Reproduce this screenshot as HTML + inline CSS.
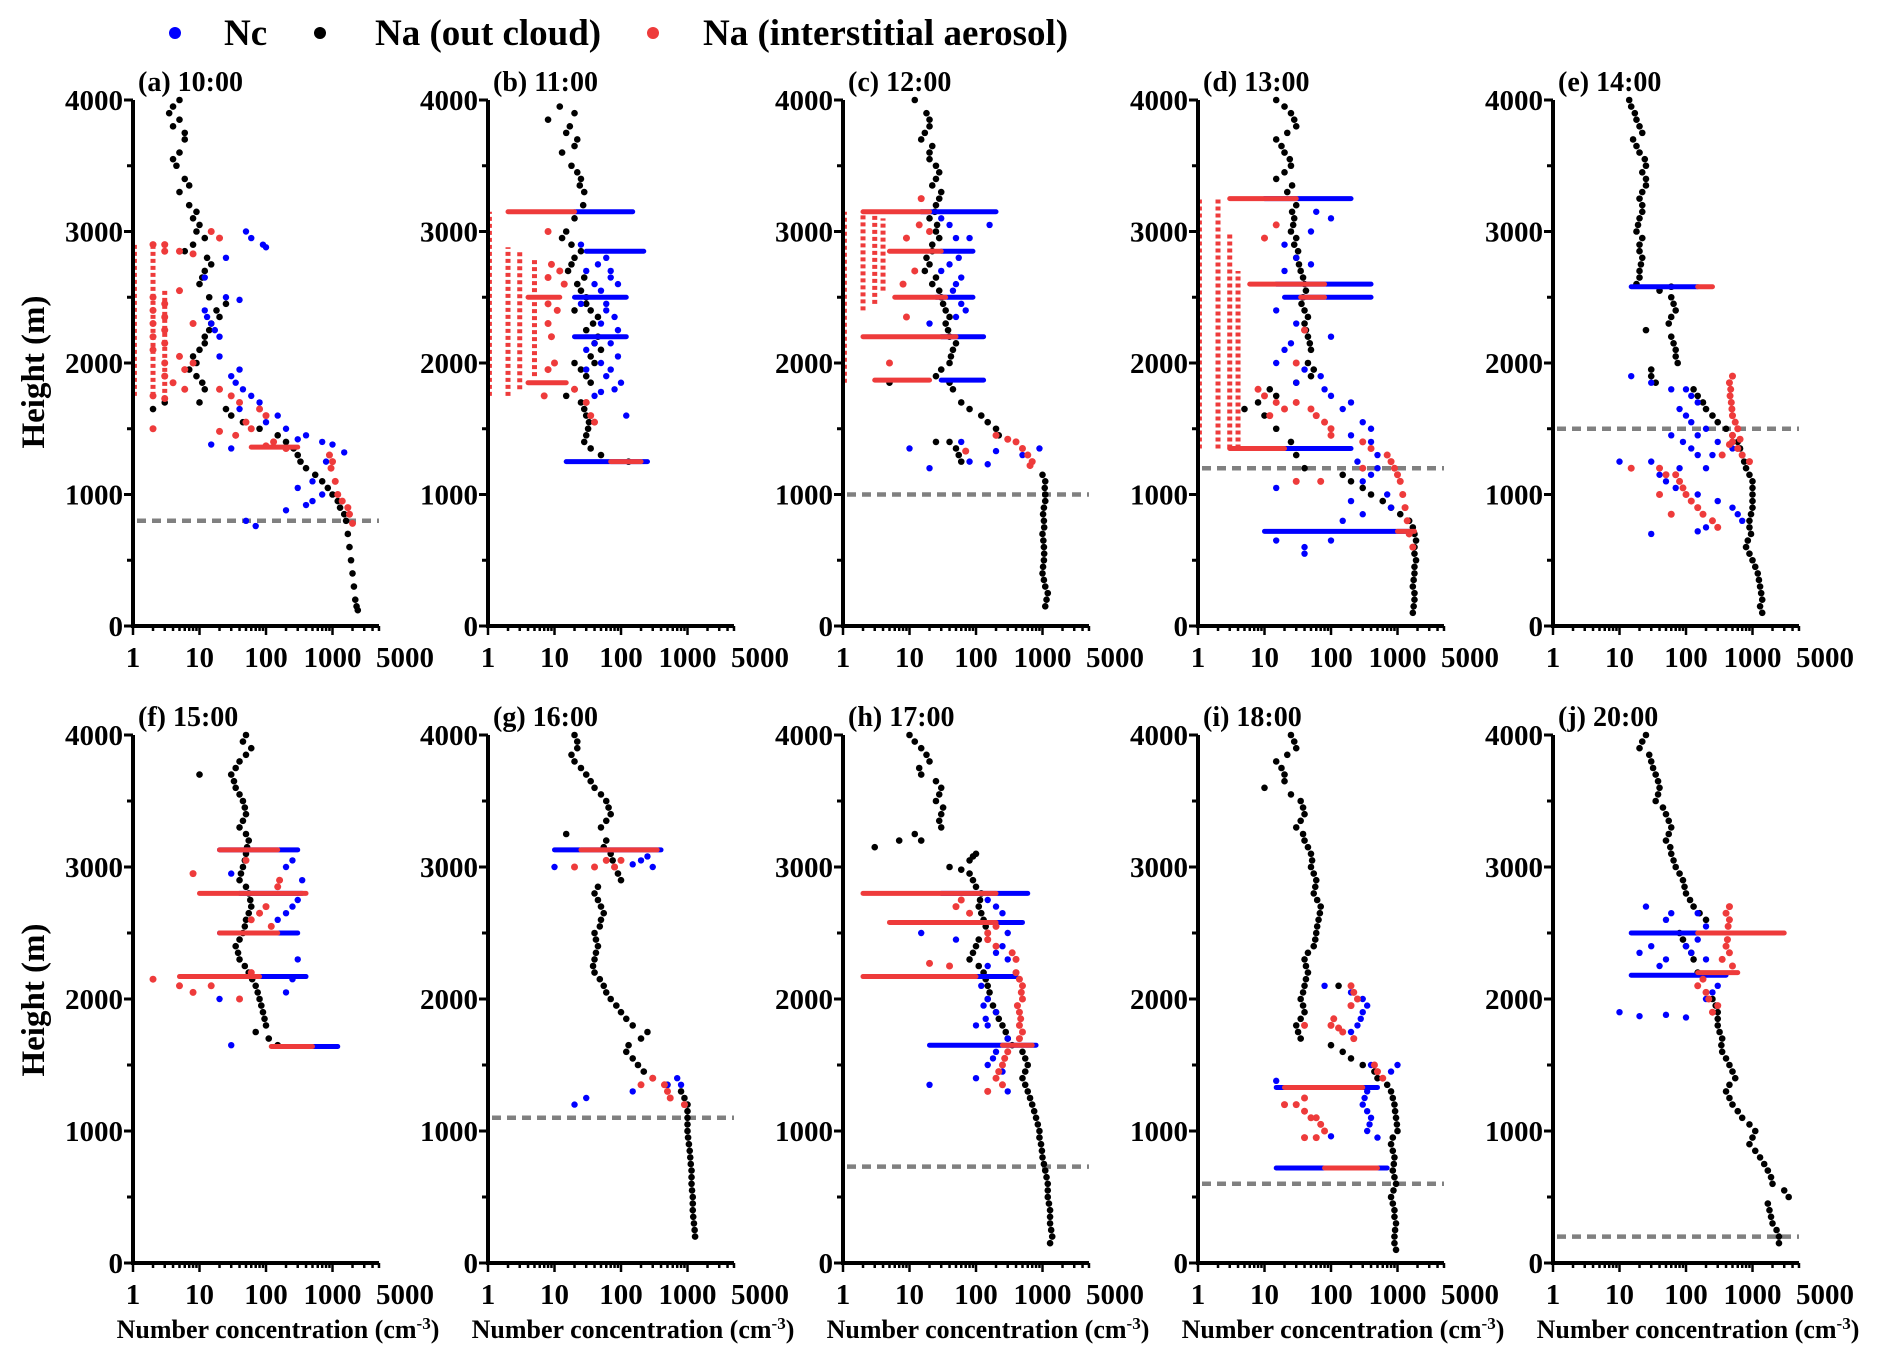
<!DOCTYPE html>
<html><head><meta charset="utf-8">
<style>
html,body{margin:0;padding:0;background:#fff;}
svg{display:block;font-family:"Liberation Serif",serif;font-weight:bold;}
</style></head>
<body>
<svg id="fig" width="1892" height="1364" viewBox="0 0 1892 1364">
<g>
 <circle cx="175" cy="33" r="6" fill="#0000ff"/>
 <text x="224" y="45" font-size="37">Nc</text>
 <circle cx="320" cy="33" r="6" fill="#000"/>
 <text x="375" y="45" font-size="37">Na (out cloud)</text>
 <circle cx="653" cy="33" r="6" fill="#ee3b3b"/>
 <text x="703" y="45" font-size="37">Na (interstitial aerosol)</text>
</g>
<text transform="translate(44,372) rotate(-90)" text-anchor="middle" font-size="33">Height (m)</text>
<text transform="translate(44,1000) rotate(-90)" text-anchor="middle" font-size="33">Height (m)</text>
</svg>
<script>
// ===== data: [height(m), concentration(cm^-3)] =====
const panelLabels = ["(a) 10:00","(b) 11:00","(c) 12:00","(d) 13:00","(e) 14:00","(f) 15:00","(g) 16:00","(h) 17:00","(i) 18:00","(j) 20:00"];
const cloudBase = [800,null,1000,1200,1500,null,1100,730,600,200];
const yTicks = [0,1000,2000,3000,4000];
const xTickLabels = ["1","10","100","1000","5000"];
const xTickValues = [1,10,100,1000,5000];

const blackA=[[4000,5],[3950,4],[3900,3.5],[3850,5],[3800,4],[3700,6],[3600,5],[3500,4.5],[3400,6],[3300,5],[3200,7],[3100,8],[3050,10],[3000,9],[2950,12],[2900,8],[2850,6],[2800,13],[2750,15],[2700,12],[2600,10],[2500,14],[2450,25],[2400,18],[2300,15],[2200,12],[2100,10],[2000,9],[1950,7],[1900,9],[1800,12],[1700,10],[1650,25],[1600,30],[1550,45],[1500,80],[1450,150],[1400,200],[1350,260],[1300,300],[1250,330],[1200,400],[1150,550],[1100,700],[1050,850],[1000,1000],[950,1200],[900,1300],[850,1500],[800,1600],[700,1700],[600,1800],[500,1900],[400,2000],[300,2100],[200,2200],[150,2300],[120,2400],[1700,3],[1650,2],[3750,6],[3550,4],[3350,7],[3150,9],[2650,11],[2350,20],[2250,14],[2150,12],[2050,8],[1850,11]];
const blueA=[[3000,50],[2950,60],[2900,90],[2880,100],[2800,25],[2650,12],[2500,25],[2480,40],[2400,12],[2300,15],[2200,20],[2050,20],[1950,40],[1900,30],[1850,35],[1800,45],[1700,80],[1650,40],[1600,150],[1500,200],[1450,400],[1400,700],[1380,1000],[1320,1500],[1250,800],[1100,500],[1050,300],[1000,700],[950,500],[920,400],[880,200],[800,50],[760,70],[1350,30],[1380,15],[2350,13],[2250,17],[1750,60],[1550,100],[1420,300]];
const redA=[[3000,15],[2950,20],[2900,2],[2900,3],[2850,3],[2850,5],[2830,8],[2550,5],[2500,2],[2450,3],[2400,2],[2350,3],[2300,2],[2250,3],[2200,2],[2150,3],[2100,2],[2050,5],[2000,3],[1950,6],[1900,3],[1850,4],[1800,6],[1750,2],[1730,3],[1500,2],[1800,20],[1750,30],[1700,40],[1650,80],[1600,100],[1550,50],[1500,60],[1450,35],[1400,130],[1370,100],[1350,200],[1300,900],[1250,1000],[1200,950],[1100,1100],[1000,1200],[950,1400],[900,1700],[850,1800],[780,2000],[1480,20],[2000,8],[2300,8]];
const blackB=[[3950,12],[3900,20],[3800,17],[3700,22],[3600,13],[3500,18],[3400,25],[3300,28],[3200,27],[3100,20],[3000,15],[2900,18],[2800,20],[2700,16],[2600,22],[2500,30],[2400,35],[2300,38],[2200,45],[2100,50],[2000,40],[1900,30],[1800,20],[1700,25],[1600,30],[1500,32],[1400,28],[1300,50],[1250,130],[2400,20],[2000,20],[3850,8],[3750,15],[3650,20],[3450,22],[3350,24],[2950,13],[2850,25],[2750,18],[2650,28],[2550,25],[2450,30],[2350,45],[2250,30],[2150,40],[2050,35],[1950,25],[1850,35],[1750,15],[1650,28],[1550,33],[1450,30],[1350,35]];
const blueB=[[2900,25],[2800,60],[2750,45],[2700,30],[2650,70],[2600,40],[2550,50],[2450,25],[2400,60],[2350,80],[2300,50],[2250,90],[2150,70],[2100,30],[2050,90],[2000,50],[1950,70],[1900,60],[1850,100],[1800,80],[1780,50],[1750,40],[1600,120],[2700,70],[2450,60],[2150,40],[1950,30],[2600,90]];
const redB=[[3000,8],[2750,9],[2700,12],[2650,8],[2600,14],[2450,8],[2400,11],[2300,8],[2200,9],[2000,10],[1950,8],[1800,20],[1750,7],[1700,30],[1600,35],[1550,40]];
const blackC=[[4000,12],[3900,18],[3800,20],[3700,15],[3600,20],[3500,25],[3400,25],[3300,30],[3200,25],[3100,20],[3000,25],[2900,22],[2800,18],[2700,17],[2600,22],[2500,30],[2400,35],[2300,35],[2200,40],[2100,45],[2000,40],[1900,25],[1850,40],[1800,45],[1700,60],[1650,80],[1600,120],[1550,150],[1500,200],[1450,220],[1400,40],[1350,50],[1300,55],[1250,60],[1400,25],[1150,1000],[1100,1100],[1000,1100],[900,1050],[800,1050],[700,1000],[600,1050],[500,1050],[400,1000],[300,1100],[250,1200],[150,1100],[1850,5],[3850,20],[3750,17],[3650,22],[3550,20],[3450,28],[3350,22],[3250,28],[3150,24],[3050,26],[2950,28],[2850,22],[2750,20],[2650,25],[2550,28],[2450,32],[2350,40],[2250,38],[2150,50],[2050,42],[1950,30],[1050,1080],[950,1100],[850,1020],[750,1060],[650,1030],[550,1060],[450,1020],[350,1050],[200,1150]];
const blueC=[[3050,40],[3050,160],[2950,80],[2700,30],[2600,50],[2400,70],[2300,20],[1350,10],[1200,20],[1250,80],[1300,500],[1350,900],[1330,200],[1400,60],[1230,150],[2750,40],[2950,50],[3100,30],[2650,60],[2450,60],[2550,45],[2350,50],[2800,55]];
const redC=[[1450,200],[1420,300],[1400,400],[1350,500],[1300,600],[1250,700],[1220,650],[1330,70],[3250,15],[3000,20],[2000,5],[2700,12],[2600,8],[2350,9],[2950,9],[3050,14]];
const blackD=[[4000,15],[3900,25],[3800,30],[3700,15],[3600,20],[3500,25],[3400,15],[3300,22],[3200,30],[3100,28],[3000,25],[2900,28],[2800,30],[2700,35],[2600,40],[2500,38],[2400,40],[2300,40],[2200,45],[2100,50],[2000,45],[1900,50],[1800,12],[1750,15],[1700,8],[1650,5],[1600,10],[1500,15],[1400,25],[1300,30],[1200,40],[1150,150],[1100,200],[1000,400],[900,800],[800,1500],[700,1800],[600,1800],[500,1900],[400,1800],[300,1700],[200,1800],[100,1700],[3950,20],[3850,28],[3750,22],[3650,18],[3550,24],[3450,20],[3350,26],[3150,26],[3050,27],[2950,30],[2850,32],[2750,33],[2650,38],[2550,42],[2450,36],[2350,45],[2250,42],[2150,48],[1950,55],[1850,30],[1050,300],[950,600],[850,1100],[750,1700],[650,1900],[550,1800],[450,1800],[350,1750],[250,1800],[150,1750]];
const blueD=[[3100,100],[3000,50],[2900,20],[2700,20],[2400,15],[2200,100],[2000,15],[1900,70],[1800,80],[1700,200],[1650,150],[1550,300],[1500,400],[1400,400],[1300,500],[1200,500],[1100,300],[1000,700],[900,800],[850,300],[800,150],[600,40],[550,40],[650,15],[1050,15],[1850,30],[2300,30],[2100,20],[2800,30],[2750,50],[2150,25],[1950,40],[1750,100],[1600,60],[1450,200],[1250,250],[1150,400],[950,200],[650,100],[3150,60]];
const redD=[[1700,30],[1650,50],[1600,60],[1550,80],[1500,100],[1450,100],[1400,300],[1350,400],[1300,700],[1250,800],[1200,900],[1150,1000],[1100,1100],[1000,1200],[900,1300],[800,1400],[700,1500],[600,1700],[1100,30],[1200,300],[2000,30],[2250,40],[1100,70],[1750,10],[1700,15],[1650,20],[1800,8],[2950,10],[3050,15],[1600,12]];
const blackE=[[4000,14],[3900,17],[3800,20],[3700,16],[3600,20],[3500,25],[3400,25],[3300,22],[3200,22],[3100,20],[3000,18],[2900,20],[2800,22],[2700,20],[2600,18],[2580,60],[2550,40],[2500,60],[2400,70],[2300,55],[2200,60],[2100,70],[2000,75],[1950,30],[1900,30],[1850,35],[1800,130],[1700,180],[1600,250],[1500,400],[1400,600],[1300,700],[1200,800],[1100,1000],[1000,1000],[900,1000],[800,900],[700,950],[600,800],[500,1000],[400,1200],[300,1300],[200,1400],[100,1400],[2250,25],[3950,15],[3850,18],[3750,22],[3650,18],[3550,24],[3450,22],[3350,25],[3250,20],[3150,22],[3050,19],[2950,22],[2850,20],[2750,21],[2650,20],[2450,65],[2350,60],[2150,65],[2050,70],[1750,150],[1650,200],[1550,300],[1450,500],[1350,650],[1250,750],[1150,900],[1050,1000],[950,1000],[850,950],[750,900],[650,850],[550,900],[450,1100],[350,1250],[250,1350],[150,1300]];
const blueE=[[1900,15],[1800,60],[1750,120],[1700,150],[1650,80],[1600,100],[1500,200],[1450,150],[1400,300],[1350,500],[1300,150],[1250,10],[1250,30],[1200,80],[1150,40],[1100,50],[1000,150],[950,300],[900,500],[850,600],[800,700],[750,200],[700,30],[720,150],[1850,30],[1550,120],[1450,60],[1400,90],[1350,120],[1300,250],[1200,200],[1050,70],[1800,100]];
const redE=[[1900,500],[1850,450],[1800,470],[1700,480],[1600,500],[1500,600],[1450,500],[1400,500],[1350,600],[1300,700],[1250,900],[1200,40],[1150,50],[1100,80],[1000,100],[950,120],[900,150],[850,180],[800,250],[750,300],[1200,15],[1000,40],[850,60],[1300,350],[1750,460],[1650,490],[1550,550],[1050,90],[1150,70],[1380,450],[1420,650]];
const blackF=[[4000,50],[3900,60],[3800,40],[3700,30],[3600,35],[3500,45],[3400,50],[3300,40],[3200,55],[3100,50],[3000,45],[2900,40],[2800,55],[2700,60],[2600,50],[2500,45],[2400,35],[2300,40],[2200,55],[2100,70],[2000,80],[1900,90],[1800,100],[1700,110],[1650,150],[1750,70],[3700,10],[3950,45],[3850,50],[3750,35],[3650,33],[3550,40],[3450,48],[3350,45],[3250,50],[3150,52],[3050,48],[2950,42],[2850,50],[2750,58],[2650,55],[2550,48],[2450,40],[2350,38],[2250,48],[2150,62],[2050,75],[1950,85],[1850,95]];
const blueF=[[3000,200],[2900,350],[2700,250],[2600,150],[2300,300],[2050,200],[2000,20],[1650,30],[2950,30],[3050,250],[2750,300],[2650,200],[2150,250]];
const redF=[[3050,50],[2950,8],[2850,150],[2700,100],[2650,80],[2600,60],[2150,2],[2100,5],[2050,8],[2000,40],[2100,15],[2900,160],[2550,120],[2200,60]];
const blackG=[[4000,20],[3900,22],[3800,20],[3700,30],[3600,40],[3500,60],[3400,70],[3300,50],[3200,60],[3100,70],[3000,80],[2900,100],[2800,40],[2700,50],[2600,50],[2500,40],[2400,45],[2300,40],[2200,40],[2100,55],[2000,70],[1900,100],[1800,150],[1700,200],[1600,120],[1500,180],[1400,300],[1300,800],[1250,900],[1200,1000],[1100,1000],[1000,1000],[900,1050],[800,1100],[700,1150],[600,1150],[500,1200],[400,1200],[300,1250],[200,1300],[3950,22],[3850,18],[3750,25],[3650,35],[3550,50],[3450,65],[3350,60],[3250,15],[3150,55],[3050,75],[2950,90],[2850,45],[2750,45],[2650,55],[2550,48],[2450,42],[2350,42],[2250,38],[2150,48],[2050,60],[1950,85],[1850,120],[1750,250],[1650,130],[1550,150],[1450,220],[1350,500],[1150,1000],[1050,1000],[950,1020],[850,1080],[750,1120],[650,1150],[550,1170],[450,1200],[350,1220],[250,1280]];
const blueG=[[3050,200],[3000,300],[3000,10],[1400,700],[1350,500],[1300,150],[1250,30],[1200,20],[1350,800],[3020,150],[3080,250]];
const redG=[[3050,60],[3000,80],[3000,20],[1400,300],[1350,450],[1300,500],[1250,550],[1200,900],[1350,200],[3050,100],[3000,40]];
const blackH=[[4000,10],[3900,15],[3800,20],[3700,15],[3600,30],[3500,25],[3400,30],[3300,30],[3200,7],[3150,3],[3200,15],[3100,100],[3050,80],[3000,40],[2950,80],[2900,90],[2800,120],[2700,110],[2600,130],[2500,150],[2400,100],[2300,80],[2200,130],[2100,150],[2000,150],[1900,200],[1800,250],[1700,300],[1600,500],[1500,600],[1400,500],[1300,600],[1200,700],[1100,800],[1000,900],[900,950],[800,1000],[700,1100],[600,1200],[500,1200],[400,1300],[300,1300],[200,1400],[150,1300],[3950,12],[3850,18],[3750,14],[3650,25],[3550,28],[3450,32],[3350,28],[3250,12],[3080,90],[2980,60],[2850,100],[2750,115],[2650,120],[2550,140],[2450,110],[2350,90],[2250,110],[2150,140],[2050,160],[1950,180],[1850,220],[1750,280],[1650,350],[1550,550],[1450,550],[1350,550],[1250,650],[1150,750],[1050,850],[950,900],[850,980],[750,1050],[650,1150],[550,1200],[450,1250],[350,1300],[250,1350]];
const blueH=[[2700,200],[2500,300],[2400,250],[2300,300],[2000,150],[1900,200],[1800,150],[1700,300],[1600,200],[1500,150],[1450,250],[1400,100],[1350,20],[1300,150],[1300,300],[2500,15],[2450,50],[1800,100],[2750,150],[2650,250],[2350,200],[2250,150],[2100,120],[1950,130],[1850,140],[1550,180]];
const redH=[[2700,50],[2650,80],[2550,200],[2500,150],[2400,200],[2300,400],[2200,400],[2100,500],[2000,500],[1900,450],[1800,450],[1700,450],[1600,300],[1500,250],[1400,200],[1350,250],[1300,150],[2270,20],[2250,40],[2750,60],[2450,150],[2350,350],[2150,450],[2050,480],[1950,420],[1850,470],[1750,500],[1550,270],[1450,220]];
const blackI=[[4000,25],[3900,30],[3800,15],[3700,20],[3600,10],[3550,25],[3500,35],[3400,40],[3300,30],[3200,40],[3100,50],[3000,50],[2900,60],[2800,55],[2700,70],[2600,65],[2500,60],[2400,55],[2300,40],[2200,45],[2100,40],[2000,35],[1900,40],[1800,30],[1700,35],[1650,100],[1600,150],[1550,200],[1500,300],[1450,450],[1400,500],[1350,700],[1300,800],[1200,900],[1100,950],[1000,1000],[900,800],[800,900],[700,850],[600,950],[500,800],[400,900],[300,950],[200,900],[100,950],[2100,130],[3950,28],[3850,22],[3750,18],[3650,20],[3450,38],[3350,35],[3250,38],[3150,45],[3050,52],[2950,55],[2850,58],[2750,62],[2650,68],[2550,62],[2450,58],[2350,45],[2250,42],[2150,42],[2050,38],[1950,38],[1850,35],[1750,32],[1250,850],[1150,920],[1050,980],[950,850],[850,850],[750,880],[650,900],[550,870],[450,850],[350,900],[250,920],[150,900]];
const blueI=[[2050,200],[2000,300],[1950,350],[1900,300],[1800,250],[1750,200],[1700,220],[1500,400],[1450,800],[1500,1000],[1300,350],[1200,300],[1100,400],[1000,350],[950,500],[960,100],[1380,15],[2100,80],[1850,280],[1950,200],[1250,320],[1150,350],[1050,380]];
const redI=[[2100,200],[2000,250],[1950,200],[1800,100],[1750,150],[1700,220],[1800,40],[1450,500],[1400,600],[1200,30],[1150,40],[1100,60],[1050,70],[1000,80],[950,40],[1200,20],[950,60],[2050,220],[1850,110],[1780,130],[1500,450],[1250,40],[1100,50]];
const blackJ=[[4000,25],[3900,20],[3800,30],[3700,35],[3600,40],[3500,35],[3400,50],[3300,60],[3200,50],[3100,60],[3000,70],[2900,90],[2800,100],[2700,130],[2600,200],[2500,80],[2400,100],[2300,130],[2200,150],[2000,250],[1900,300],[1800,300],[1700,350],[1600,350],[1500,450],[1400,550],[1300,400],[1200,500],[1100,700],[1000,1100],[900,900],[800,1300],[700,1700],[600,2000],[500,3500],[400,1800],[300,2000],[200,2500],[150,2500],[550,3000],[3950,22],[3850,28],[3750,32],[3650,38],[3550,38],[3450,45],[3350,55],[3250,55],[3150,58],[3050,65],[2950,80],[2850,95],[2750,115],[2650,160],[2450,90],[2350,120],[1950,280],[1850,300],[1750,320],[1650,340],[1550,400],[1450,500],[1350,450],[1250,450],[1150,600],[1050,900],[950,1000],[850,1100],[750,1500],[650,1900],[450,1700],[350,1900],[250,2300]];
const blueJ=[[2700,25],[2650,60],[2600,50],[2400,30],[2350,20],[2300,50],[2250,40],[2100,300],[2000,200],[1950,300],[1900,10],[1870,20],[1880,50],[1860,100],[2400,100],[2300,200],[2650,150],[2550,200],[2450,150],[2350,120],[2050,250]];
const redJ=[[2700,450],[2650,400],[2600,450],[2400,400],[2300,350],[2100,150],[2050,200],[2000,220],[1950,300],[1900,250],[2250,500],[2350,450],[2150,180],[2450,420],[2550,430]];

// dense horizontal rows: [height, concFrom, concTo]
const rowsBlue=[[],[[3150,20,150],[2850,30,220],[2500,20,120],[2200,20,120],[1250,15,250]],[[3150,15,200],[2850,30,90],[2500,25,90],[2200,30,130],[1870,30,130]],[[3250,10,200],[2600,15,400],[2500,20,400],[1350,15,200],[720,10,1500]],[[2580,15,150]],[[3130,20,300],[2800,40,350],[2500,20,300],[2170,20,400],[1640,150,1200]],[[3130,10,400]],[[2800,30,600],[2580,15,500],[2170,20,400],[1650,20,800]],[[1330,15,500],[720,15,700]],[[2500,15,500],[2180,15,400]]];
const rowsRed=[[[1360,60,300]],[[3150,2,20],[2500,4,12],[1850,4,15],[1250,70,200]],[[3150,2,20],[2850,5,30],[2500,6,35],[2200,2,50],[1870,3,20]],[[3250,3,30],[2600,6,80],[2500,35,80],[1350,3,20],[720,1000,1800]],[[2580,150,250]],[[3130,20,150],[2800,10,400],[2500,20,150],[2170,5,80],[1640,120,500]],[[3130,25,350]],[[2800,2,200],[2580,5,200],[2170,2,100],[1650,250,700]],[[1330,20,300],[720,80,500]],[[2500,150,3000],[2200,150,600]]];
// vertical stacks of red dots: [conc, heightFrom, heightTo]
const colsRed=[[[2,1750,2900],[3,1720,2550],[1.05,1750,2900]],[[2,1750,2880],[3,1800,2850],[5,1900,2800],[1.05,1750,3150]],[[2,2400,3150],[3,2450,3150],[4,2550,3100],[1.05,1850,3150]],[[2,1350,3250],[3,1350,3000],[4,1350,2700],[1.05,1350,3250]],[],[],[],[],[],[]];

const blackAll=[blackA,blackB,blackC,blackD,blackE,blackF,blackG,blackH,blackI,blackJ];
const blueAll=[blueA,blueB,blueC,blueD,blueE,blueF,blueG,blueH,blueI,blueJ];
const redAll=[redA,redB,redC,redD,redE,redF,redG,redH,redI,redJ];

// ===== layout =====
const NS="http://www.w3.org/2000/svg";
const svg=document.getElementById("fig");
const colX=[133,488,843,1198,1553];
const rowY0=[626,1263], rowY4=[100,735];
const DEC=66.5, XMAX=Math.log10(5000);
const BLUE="#0000ff", RED="#ee3b3b";
function mk(tag,attrs,parent){const e=document.createElementNS(NS,tag);for(const k in attrs)e.setAttribute(k,attrs[k]);(parent||svg).appendChild(e);return e;}

for(let p=0;p<10;p++){
  const col=p%5,row=Math.floor(p/5);
  const ax=colX[col], y0=rowY0[row], y4=rowY4[row];
  const sx=v=>ax+Math.log10(Math.max(v,1))*DEC;
  const sy=h=>y0-(h/4000)*(y0-y4);
  const g=mk("g",{});
  
  
  const t=mk("text",{x:ax+5,y:y4-9,"font-size":28},g);t.textContent=panelLabels[p];
  
  
  if(cloudBase[p]!==null){
    const l=mk("line",{x1:ax+4,x2:ax+XMAX*DEC,y1:sy(cloudBase[p]),y2:sy(cloudBase[p]),stroke:"#808080","stroke-width":4.5,"stroke-dasharray":"9 6"},g);
    
    
  }
  colsRed[p].forEach(c=>{
    const l=mk("line",{x1:sx(c[0]),x2:sx(c[0]),y1:sy(c[1]),y2:sy(c[2]),stroke:RED,"stroke-width":5,"stroke-dasharray":"4 3"},g);
    
    
  });
  blackAll[p].forEach(d=>{
    const c=mk("circle",{cx:sx(d[1]),cy:sy(d[0]),r:3.3},g);
    
    
  });
  rowsBlue[p].forEach(r=>{
    const l=mk("line",{x1:sx(r[1]),x2:sx(r[2]),y1:sy(r[0]),y2:sy(r[0]),stroke:BLUE,"stroke-width":5,"stroke-linecap":"round"},g);
    
    
  });
  blueAll[p].forEach(d=>{
    const c=mk("circle",{cx:sx(d[1]),cy:sy(d[0]),r:3.2,fill:BLUE},g);
    
    
  });
  rowsRed[p].forEach(r=>{
    const l=mk("line",{x1:sx(r[1]),x2:sx(r[2]),y1:sy(r[0]),y2:sy(r[0]),stroke:RED,"stroke-width":5,"stroke-linecap":"round"},g);
    
    
  });
  redAll[p].forEach(d=>{
    const c=mk("circle",{cx:sx(d[1]),cy:sy(d[0]),r:3.5,fill:RED},g);
    
    
  });
  const xend=ax+XMAX*DEC;
  const ya=mk("line",{x1:ax,x2:ax,y1:y4,y2:y0+2,stroke:"#000","stroke-width":4},g);
  
  
  const xa=mk("line",{x1:ax-2,x2:xend,y1:y0,y2:y0,stroke:"#000","stroke-width":4},g);
  
  
  for(let h=0;h<=4000;h+=500){
    mk("line",{x1:ax-(h%1000===0?9:6),x2:ax,y1:sy(h),y2:sy(h),stroke:"#000","stroke-width":3},g);
  }
  yTicks.forEach(h=>{
    const tl=mk("text",{x:ax-10,y:sy(h)+10,"text-anchor":"end","font-size":29},g);tl.textContent=h;
    
    
  });
  for(let k=0;k<4;k++)for(let m=1;m<10;m++){
    const v=m*Math.pow(10,k); if(v>5000)break;
    mk("line",{x1:sx(v),x2:sx(v),y1:y0,y2:y0+(m===1?9:5),stroke:"#000","stroke-width":2.5},g);
  }
  xTickValues.forEach((v,i)=>{
    const off = (v===5000)?26:0;
    const tl=mk("text",{x:sx(v)+off,y:y0+41,"text-anchor":"middle","font-size":29},g);tl.textContent=xTickLabels[i];
    
    
  });
  if(row===1){
    const xt=mk("text",{x:ax+145,y:1338,"text-anchor":"middle","font-size":26},g);
    xt.innerHTML='Number concentration (cm<tspan dy="-9" font-size="17">-3</tspan><tspan dy="9">)</tspan>';
    
    
  }
}
</script>
</body></html>
